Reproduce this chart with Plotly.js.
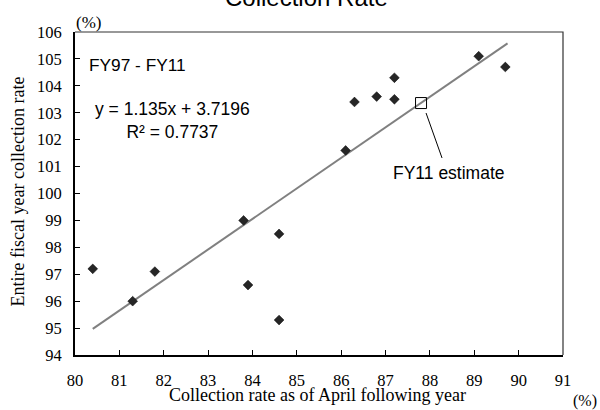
<!DOCTYPE html>
<html>
<head>
<meta charset="utf-8">
<script src="https://cdn.plot.ly/plotly-3.0.1.min.js"></script>
<style>html,body{margin:0;padding:0;background:#fff;}#chart{width:600px;height:410px;}</style>
</head>
<body>
<div id="chart"></div>
<script>
// Collection rate as of April following year (%), FY97 - FY10
const aprilRate = [80.4, 81.3, 81.8, 83.8, 83.9, 84.6, 84.6, 86.1, 86.3, 86.8, 87.2, 87.2, 89.1, 89.7];
// Entire fiscal year collection rate (%)
const fiscalRate = [97.2, 96.0, 97.1, 99.0, 96.6, 98.5, 95.3, 101.6, 103.4, 103.6, 104.3, 103.5, 105.1, 104.7];
// FY11 estimate
const estX = [87.8];
const estY = [103.36];
// Trend line endpoints
const trendX = [80.4, 89.75];
const trendY = [94.97, 105.58];
const xTicks = [80, 81, 82, 83, 84, 85, 86, 87, 88, 89, 90, 91];
const yTicks = [94, 95, 96, 97, 98, 99, 100, 101, 102, 103, 104, 105, 106];

const serif = "Liberation Serif, Times New Roman, serif";
const sans = "Liberation Sans, Arial, sans-serif";

const M = {l: 75, r: 37, t: 32, b: 55};
const W = 600, H = 410;
const plotW = W - M.l - M.r, plotH = H - M.t - M.b;
const toPaperX = px => (px - M.l) / plotW;
const toPaperY = py => (H - M.b - py) / plotH;

const traces = [
  {x: trendX, y: trendY, mode: 'lines', line: {color: '#808080', width: 2}, hoverinfo: 'skip'},
  {x: aprilRate, y: fiscalRate, mode: 'markers', marker: {symbol: 'diamond', size: 7.5, color: '#262626', line: {width: 0.5, color: '#000'}}},
  {x: estX, y: estY, mode: 'markers', marker: {symbol: 'square-open', size: 11, color: '#000', line: {width: 1, color: '#000'}}}
];

const layout = {
  width: W, height: H,
  margin: M,
  paper_bgcolor: '#fff', plot_bgcolor: '#fff',
  showlegend: false,
  xaxis: {
    range: [80, 91], tickvals: xTicks, ticktext: xTicks.map(String),
    ticks: 'inside', ticklen: 5, tickcolor: '#000', tickwidth: 1, showgrid: false, zeroline: false,
    showline: true, linecolor: '#000', linewidth: 2, mirror: false, ticklabelstandoff: 9,
    tickfont: {family: serif, size: 16.5, color: '#000'}
  },
  yaxis: {
    range: [94, 106], tickvals: yTicks, ticktext: yTicks.map(String),
    ticks: 'inside', ticklen: 5, tickcolor: '#000', tickwidth: 1, showgrid: false, zeroline: false,
    showline: true, linecolor: '#000', linewidth: 2, mirror: false, ticklabelstandoff: 8,
    tickfont: {family: serif, size: 16.5, color: '#000'}
  },
  annotations: [
    {text: 'Collection Rate', xref: 'paper', yref: 'paper', x: toPaperX(306), y: toPaperY(-3), xanchor: 'center', yanchor: 'middle', showarrow: false, font: {family: sans, size: 24, color: '#000'}},
    {text: 'Collection rate as of April following year', xref: 'paper', yref: 'paper', x: toPaperX(317.5), y: toPaperY(395), xanchor: 'center', yanchor: 'middle', showarrow: false, font: {family: serif, size: 18, color: '#000'}},
    {text: 'Entire fiscal year collection rate', textangle: -90, xref: 'paper', yref: 'paper', x: toPaperX(17), y: toPaperY(191.5), xanchor: 'center', yanchor: 'middle', showarrow: false, font: {family: serif, size: 18, color: '#000'}},
    {text: '(%)', xref: 'paper', yref: 'paper', x: toPaperX(88), y: toPaperY(23), xanchor: 'center', yanchor: 'middle', showarrow: false, font: {family: serif, size: 17, color: '#000'}},
    {text: '(%)', xref: 'paper', yref: 'paper', x: toPaperX(585), y: toPaperY(401), xanchor: 'center', yanchor: 'middle', showarrow: false, font: {family: serif, size: 16, color: '#000'}},
    {text: 'FY97 - FY11', xref: 'x', yref: 'y', x: 80.264, y: 104.77, xanchor: 'left', yanchor: 'middle', showarrow: false, font: {family: sans, size: 17.3, color: '#000'}},
    {text: 'y = 1.135x + 3.7196<br>R² = 0.7737', align: 'center', xref: 'x', yref: 'y', x: 82.19, y: 102.73, xanchor: 'center', yanchor: 'middle', showarrow: false, font: {family: sans, size: 17.5, color: '#000'}},
    {text: 'FY11 estimate', xref: 'x', yref: 'y', x: 88.42, y: 100.76, xanchor: 'center', yanchor: 'middle', showarrow: false, font: {family: sans, size: 17.5, color: '#000'}}
  ],
  shapes: [
    {type: 'line', xref: 'x', yref: 'y', x0: 87.913, y0: 102.99, x1: 88.273, y1: 101.32, line: {color: '#000', width: 1}},
    {type: 'path', xref: 'paper', yref: 'paper', path: 'M 0 1 L 1 1 L 1 0', line: {color: '#333', width: 1.2}}
  ]
};

Plotly.newPlot('chart', traces, layout, {staticPlot: true, displayModeBar: false});
</script>
</body>
</html>
